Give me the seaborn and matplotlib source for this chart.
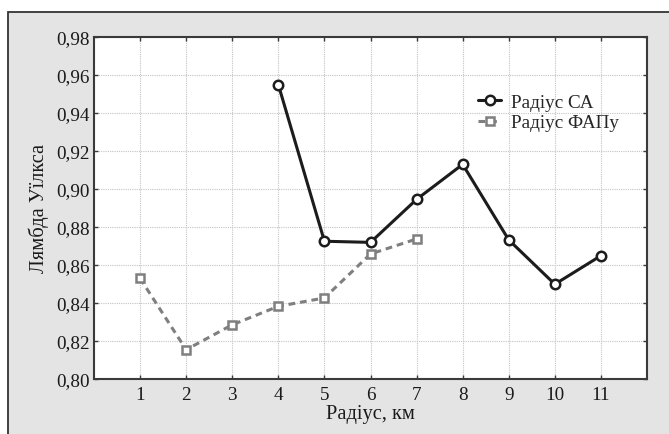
import matplotlib
matplotlib.use("Agg")
import matplotlib.pyplot as plt
from matplotlib.patches import Rectangle
from matplotlib.ticker import FuncFormatter
import seaborn as sns
import pandas as pd

# Data
x_ca = [4, 5, 6, 7, 8, 9, 10, 11]
y_ca = [0.9547, 0.8724, 0.8718, 0.8944, 0.9128, 0.8731, 0.8498, 0.8648]
x_fap = [1, 2, 3, 4, 5, 6, 7]
y_fap = [0.8529, 0.8154, 0.8285, 0.8382, 0.8426, 0.8657, 0.8736]
label_ca = "Радіус СА"
label_fap = "Радіус ФАПу"
xlabel = "Радіус, км"
ylabel = "Лямбда Уїлкса"
x_ticks = list(range(1, 12))
y_ticks = [0.80, 0.82, 0.84, 0.86, 0.88, 0.90, 0.92, 0.94, 0.96, 0.98]

sns.set_theme(style="white")
plt.rcParams['font.family'] = ['Liberation Serif', 'DejaVu Serif']
FS = 13.8
LFS = 14.8

W, H = 669, 435
fig = plt.figure(figsize=(W / 100, H / 100), dpi=100)
fig.patch.set_facecolor("white")
fig.patches.append(Rectangle((8 / W, -0.1), 1.2, 1 - 13 / H + 0.1,
                             transform=fig.transFigure, facecolor="#e4e4e4",
                             edgecolor="#333333", linewidth=1.3, zorder=-10))

ax = fig.add_axes([94 / W, 1 - 380 / H, (647 - 94) / W, (380 - 37.5) / H])
ax.set_facecolor("white")

df_ca = pd.DataFrame({"x": x_ca, "y": y_ca})
df_fap = pd.DataFrame({"x": x_fap, "y": y_fap})

sns.lineplot(data=df_fap, x="x", y="y", ax=ax, color="#7f7f7f", linewidth=2.2,
             linestyle=(0, (2.2, 1.6)), marker="s", markersize=6.3,
             markerfacecolor="white", markeredgecolor="#7f7f7f",
             markeredgewidth=1.8, label=label_fap, zorder=3)
sns.lineplot(data=df_ca, x="x", y="y", ax=ax, color="#1c1c1c", linewidth=2.2,
             marker="o", markersize=6.8, markerfacecolor="white",
             markeredgecolor="#1c1c1c", markeredgewidth=1.8,
             label=label_ca, zorder=4)

ax.set_xlim(0, 12)
ax.set_ylim(0.80, 0.98)
ax.set_xticks(x_ticks)
ax.set_yticks(y_ticks)
ax.yaxis.set_major_formatter(FuncFormatter(lambda v, p: f"{v:.2f}".replace(".", ",")))
ax.grid(True, color="#c4c4c4", linestyle=(0, (1, 1)), linewidth=0.8)
ax.set_axisbelow(True)

for s in ax.spines.values():
    s.set_visible(True)
    s.set_color("#3a3a3a")
    s.set_linewidth(1.5)

ax.tick_params(axis="both", which="both", direction="in", length=3, width=1,
               color="#3a3a3a", labelsize=FS, labelcolor="#1a1a1a",
               top=True, right=True, left=True, bottom=True)
ax.tick_params(axis="y", pad=3)
ax.tick_params(axis="x", pad=5)

ax.set_xlabel(xlabel, fontsize=LFS, color="#1a1a1a", labelpad=1)
ax.set_ylabel(ylabel, fontsize=LFS, color="#1a1a1a", labelpad=5)

h, l = ax.get_legend_handles_labels()
order = [l.index(label_ca), l.index(label_fap)]
leg = ax.legend([h[i] for i in order], [l[i] for i in order],
                loc="center left", bbox_to_anchor=((478 - 94) / 553, 0.778),
                frameon=False, fontsize=FS, handlelength=1.2, handletextpad=0.5,
                borderpad=0, borderaxespad=0, labelspacing=0.15)

fig.savefig("out.png", dpi=100, facecolor=fig.get_facecolor())
